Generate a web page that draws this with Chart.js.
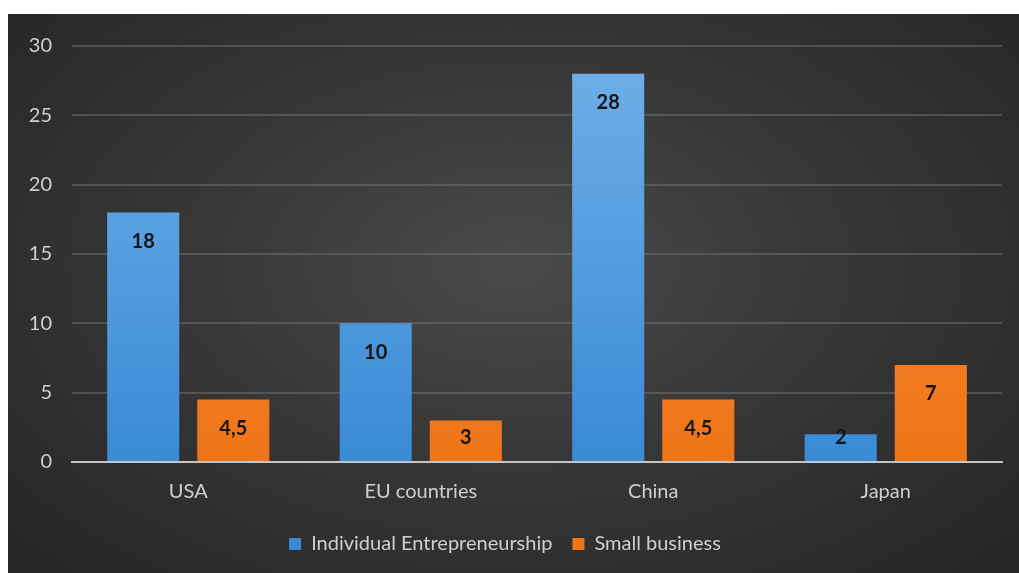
<!DOCTYPE html>
<html>
<head>
<meta charset="utf-8">
<script src="https://cdn.jsdelivr.net/npm/chart.js@4"></script>
<style>
  html, body { margin: 0; padding: 0; background: #fff; }
  #panel {
    position: absolute; left: 8px; top: 14px; width: 1011px; height: 559px;
    background: radial-gradient(ellipse at 50% 45%, #4a4a4a 0%, #373737 45%, #252525 100%);
  }
  canvas { display: block; }
</style>
</head>
<body>
<div id="panel"><canvas id="chart" width="1011" height="559"></canvas></div>
<script>
const categories = ["USA", "EU countries", "China", "Japan"];
const individualValues = [18, 10, 28, 2];
const smallBusinessValues = [4.5, 3, 4.5, 7];
const yTicks = [0, 5, 10, 15, 20, 25, 30];

const FONT = "Lato, 'Open Sans', sans-serif";
const TEXT = "#cfcfcf";

function vGrad(chart, top, bottom) {
  const area = chart.chartArea;
  if (!area) return top;
  const g = chart.ctx.createLinearGradient(0, area.top, 0, area.bottom);
  g.addColorStop(0, top);
  g.addColorStop(1, bottom);
  return g;
}

// bar value labels, inside end (like the office chart)
const barLabels = {
  id: "barLabels",
  afterDatasetsDraw(chart) {
    const ctx = chart.ctx;
    const base = chart.scales.y.getPixelForValue(0);
    ctx.save();
    ctx.font = "bold 20px " + FONT;
    ctx.fillStyle = "#151515";
    ctx.textAlign = "center";
    ctx.textBaseline = "middle";
    chart.data.datasets.forEach((ds, i) => {
      chart.getDatasetMeta(i).data.forEach((bar, j) => {
        const y = Math.min(bar.y + 29, base - 24);
        ctx.fillText(String(ds.data[j]).replace(".", ","), bar.x, y);
      });
    });
    ctx.restore();
  }
};

new Chart(document.getElementById("chart"), {
  type: "bar",
  data: {
    labels: categories,
    datasets: [
      {
        label: "Individual Entrepreneurship",
        data: individualValues,
        backgroundColor: (c) => vGrad(c.chart, "#6fb0e8", "#3a8ad6"),
        borderWidth: 0,
        categoryPercentage: 0.775,
        barPercentage: 0.8
      },
      {
        label: "Small business",
        data: smallBusinessValues,
        backgroundColor: (c) => vGrad(c.chart, "#f9924a", "#ef7417"),
        borderWidth: 0,
        categoryPercentage: 0.775,
        barPercentage: 0.8
      }
    ]
  },
  options: {
    responsive: false,
    animation: false,
    layout: { padding: { top: 22, right: 17, left: 0, bottom: 9 } },
    scales: {
      x: {
        grid: { display: false },
        border: { display: true, color: "#c4c4c4", width: 2 },
        ticks: { color: TEXT, font: { family: FONT, size: 20 }, padding: 10 }
      },
      y: {
        min: 0,
        max: 30,
        afterBuildTicks(scale) { scale.ticks = yTicks.map((v) => ({ value: v })); },
        afterFit(scale) { scale.width = 64; },
        grid: {
          color: (c) => (c.tick.value === 0 ? "rgba(0,0,0,0)" : "rgba(115,115,115,0.5)"),
          lineWidth: 2,
          drawTicks: false
        },
        border: { display: false },
        ticks: { color: TEXT, font: { family: FONT, size: 20 }, padding: 20 }
      }
    },
    plugins: {
      legend: {
        position: "bottom",
        labels: {
          color: TEXT,
          font: { family: FONT, size: 20 },
          boxWidth: 12,
          boxHeight: 12,
          padding: 20
        }
      },
      tooltip: { enabled: false }
    }
  },
  plugins: [barLabels]
});
</script>
</body>
</html>
